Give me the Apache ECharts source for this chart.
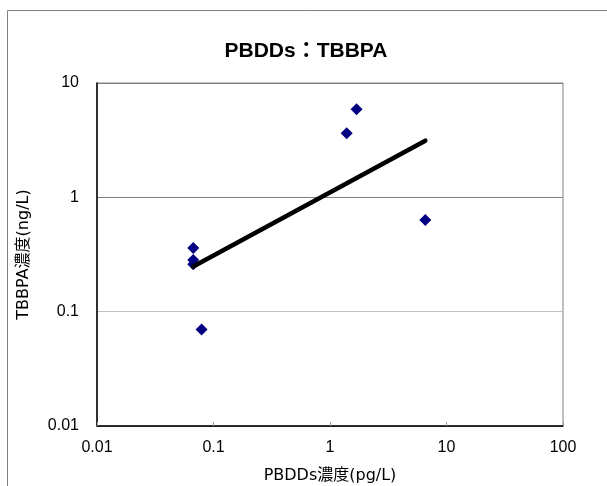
<!DOCTYPE html>
<html><head><meta charset="utf-8">
<script src="https://cdn.jsdelivr.net/npm/echarts@6/dist/echarts.min.js"></script>
<style>html,body{margin:0;padding:0;background:#fff}#c{width:607px;height:486px}</style>
</head><body><div id="c"></div>
<script>
const titleText = 'PBDDs：TBBPA';
const xName = 'PBDDs濃度(pg/L)';
const yName = 'TBBPA濃度(ng/L)';
const pbddsX = [0.067, 0.067, 0.067, 0.079, 1.39, 1.69, 6.58];
const tbbpaY = [0.36, 0.283, 0.26, 0.070, 3.64, 5.9, 0.634];
const trendX = [0.067, 6.58];
const trendY = [0.248, 3.13];

const numFont = '"Liberation Sans", Arial, sans-serif';
const nameFont = '"DejaVu Sans", "Noto Sans CJK JP", sans-serif';
const titleFont = '"Liberation Sans", "Noto Sans CJK JP", sans-serif';
const chart = echarts.init(document.getElementById('c'));
chart.setOption({
  animation: false,
  backgroundColor: '#fff',
  title: {text: titleText, left: 301, top: 36, textAlign: 'center',
    textStyle: {fontFamily: titleFont, fontSize: 21, fontWeight: 'bold', color: '#000'}},
  grid: {left: 97, right: 44, top: 83, bottom: 60, show: true, borderColor: '#808080', borderWidth: 1,
    containLabel: false, outerBoundsMode: 'none'},
  xAxis: {type: 'log', logBase: 10, min: 0.01, max: 100,
    name: xName, nameLocation: 'middle', nameGap: 42,
    nameTextStyle: {fontFamily: nameFont, fontSize: 16, color: '#000'},
    axisLine: {lineStyle: {color: '#000', width: 1.5}},
    axisTick: {inside: true, length: 4, lineStyle: {color: '#999'}},
    axisLabel: {fontFamily: numFont, fontSize: 16, color: '#000', margin: 14},
    splitLine: {show: false}, minorTick: {show: false}},
  yAxis: {type: 'log', logBase: 10, min: 0.01, max: 10,
    name: yName, nameLocation: 'middle', nameGap: 65, nameRotate: 90,
    nameTextStyle: {fontFamily: nameFont, fontSize: 16, color: '#000'},
    axisLine: {lineStyle: {color: '#000', width: 1.5}},
    axisTick: {show: false},
    axisLabel: {fontFamily: numFont, fontSize: 16, color: '#000', margin: 18},
    splitLine: {show: true, lineStyle: {color: ['#808080', '#c0c0c0', '#808080', '#808080'], width: 1}}},
  graphic: [{type: 'rect', left: 5, top: 8, shape: {width: 640, height: 520},
    style: {fill: 'none', stroke: '#808080', lineWidth: 1}, silent: true, z: -1}],
  series: [
    {type: 'line', data: trendX.map((x, i) => [x, trendY[i]]), showSymbol: false, symbol: 'none',
      lineStyle: {color: '#000', width: 4.5, cap: 'round'}, z: 3},
    {type: 'scatter', data: pbddsX.map((x, i) => [x, tbbpaY[i]]), symbol: 'diamond', symbolSize: 12,
      itemStyle: {color: '#000080', opacity: 1}, z: 2}
  ]
});
</script></body></html>
